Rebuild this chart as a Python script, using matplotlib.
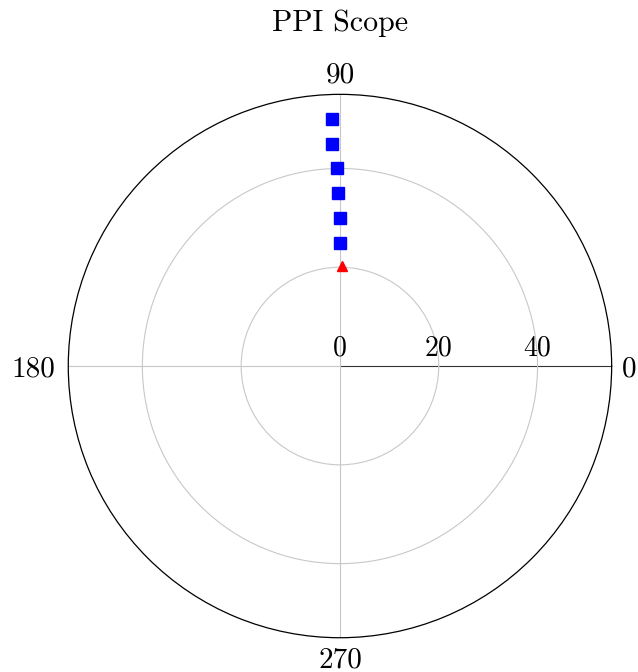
import numpy as np
import matplotlib
matplotlib.use("Agg")
import matplotlib.pyplot as plt

plt.rcParams['font.family'] = ['cmr10', 'DejaVu Serif']
plt.rcParams['axes.formatter.use_mathtext'] = True

# Data (degrees, range)
track_theta = [91.8, 92.0, 91.0, 90.75, 90.0, 90.0]
track_r = [50, 45, 40, 35, 30, 25]
radar_theta = [89.0]
radar_r = [20.2]

r_max = 55
r_grid = [20, 40]
r_labels = [0, 20, 40]
theta_ticks = [0, 90, 180, 270]

fig = plt.figure(figsize=(6.38, 6.72), dpi=100)
ax = fig.add_axes([0.107, 0.051, 0.8517, 0.8086], projection='polar')

ax.plot(np.deg2rad(track_theta), track_r, linestyle='none', marker='s',
        markersize=8.4, color='#0000ff', clip_on=False, zorder=5)
ax.plot(np.deg2rad(radar_theta), radar_r, linestyle='none', marker='^',
        markersize=7, color='#ff0000', clip_on=False, zorder=5)

ax.set_ylim(0, r_max)
ax.set_yticks(r_grid)
ax.set_yticklabels([])
ax.set_thetagrids(theta_ticks, ['' for t in theta_ticks])
ax.tick_params(axis='x', direction='out', length=8, width=0.8, color='#404040')
ax.tick_params(axis='y', length=0)
ax.grid(True, color='#c8c8c8', linewidth=0.8)
ax.xaxis.get_gridlines()[0].set_color('#333333')
ax.spines['polar'].set_color('black')
ax.spines['polar'].set_linewidth(0.9)

# angular tick labels anchored outside the outer circle
placement = {0: ((7.5, 0), 'left', 'center_baseline'),
             90: ((0, 8.5), 'center', 'baseline'),
             180: ((-9, 0), 'right', 'center_baseline'),
             270: ((0, -6.5), 'center', 'top')}
for t in theta_ticks:
    off, ha, va = placement[t]
    ax.annotate(str(t), xy=(np.deg2rad(t), r_max), xytext=off,
                textcoords='offset points', ha=ha, va=va, fontsize=21,
                annotation_clip=False)

for r in r_labels:
    ax.annotate(str(r), xy=(0, r), xytext=(0, 3), textcoords='offset points',
                ha='center', va='bottom', fontsize=20)

ax.set_title('PPI Scope', fontsize=21.5, pad=45.5)

fig.savefig('out.png', dpi=100)
